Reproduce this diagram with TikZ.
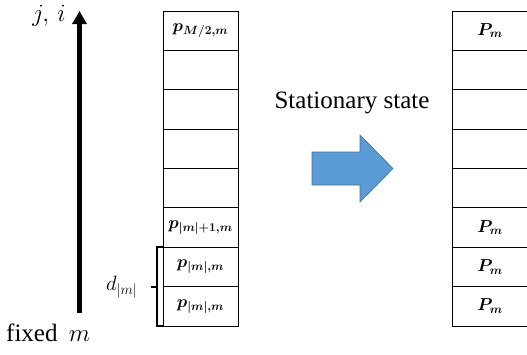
\documentclass[tikz,border=0pt]{standalone}
\usepackage{fontspec}
\setmainfont{Liberation Serif}
\usepackage{bm}
\usetikzlibrary{arrows.meta,calc}
\definecolor{arrowblue}{HTML}{5B9BD5}
\definecolor{arrowedge}{HTML}{41719C}
\begin{document}
\begin{tikzpicture}[x=1pt,y=-1pt,
  cell/.style={draw,line width=0.8pt,minimum width=75pt,minimum height=39.375pt,inner sep=0pt,
    font=\fontsize{18}{20}\selectfont},
  lab/.style={inner sep=0pt,font=\fontsize{25}{30}\selectfont}]
  % Coordinates in pixels of the 527x354 figure, y measured from the top.
  \useasboundingbox (0,0) rectangle (527,354);
  \foreach \k/\labl/\labr in {1/{$\bm{p_{M/2,m}}$}/{$\bm{P_m}$},2/{}/{},3/{}/{},4/{}/{},5/{}/{},
      6/{$\bm{p_{|m|+1,m}}$}/{$\bm{P_m}$},7/{$\bm{p_{|m|,m}}$}/{$\bm{P_m}$},8/{$\bm{p_{|m|,m}}$}/{$\bm{P_m}$}}{
    \node[cell] (l\k) at (200.5,{11+39.375*(\k-0.5)}) {\labl};
    \node[cell] (r\k) at (490,{11+39.375*(\k-0.5)}) {\labr};
  }
  % axis arrow
  \coordinate (base) at (79.5,313);
  \coordinate (tip) at (79.5,11);
  \draw[line width=4.5pt,-{Triangle[length=13pt,width=14pt]}] (base) -- (tip);
  \node[lab,font=\fontsize{23}{26}\selectfont] (ji) at (49,16) {$j,\,i$};
  \node[lab,anchor=base west] (fixed) at (6,341) {fixed\hspace{0.45em}$m$};
  % bracket over the two lowest cells
  \draw[line width=2pt] (l7.north west) -- ++(-6,0) |- (l8.south west);
  \coordinate (brace) at ($(l7.south west)+(-6,0)$);
  \draw[line width=2pt] (brace) -- ++(-6,0) coordinate (bracetip);
  \node[lab,anchor=east,font=\fontsize{22}{26}\selectfont] (d) at ([xshift=-13pt]bracetip) {$d_{|m|}$};
  % transition arrow
  \node[lab] (stat) at (352,103) {Stationary state};
  \filldraw[fill=arrowblue,draw=arrowedge,line width=0.6pt]
    (312,152) -- (360,152) -- (360,135) -- (393,168.5) -- (360,202) -- (360,185) -- (312,185) -- cycle;
\end{tikzpicture}
\end{document}
